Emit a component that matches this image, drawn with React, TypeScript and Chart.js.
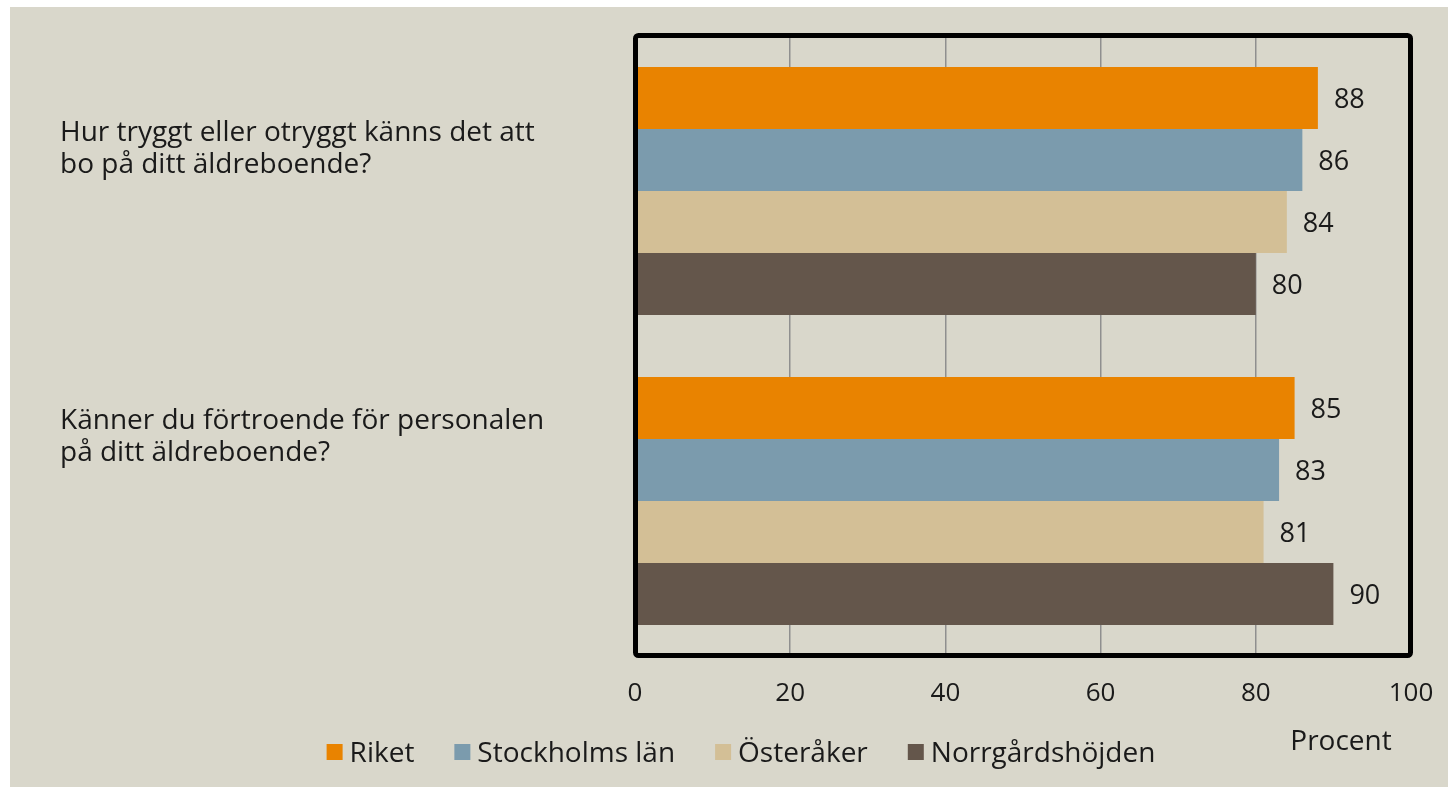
import React, { useEffect, useRef } from "react";
import { Chart, registerables } from "chart.js";

Chart.register(...registerables);

const categories: string[][] = [
  ["Hur tryggt eller otryggt känns det att", "bo på ditt äldreboende?"],
  ["Känner du förtroende för personalen", "på ditt äldreboende?"],
];
const seriesNames = ["Riket", "Stockholms län", "Österåker", "Norrgårdshöjden"];
const riket = [88, 85];
const stockholmsLan = [86, 83];
const osteraker = [84, 81];
const norrgardshojden = [80, 90];
const seriesColors = ["#E98300", "#7B9BAD", "#D3BF96", "#64564B"];
const xMin = 0;
const xMax = 100;
const xStep = 20;
const axisTitle = "Procent";

const FONT = "'Open Sans', 'DejaVu Sans', sans-serif";
const TEXT = "#1a1a1a";

const overlayPlugin = {
  id: "overlay",
  afterDatasetsDraw(chart: any) {
    const { ctx, chartArea } = chart;
    const yScale = chart.scales.y;
    const xScale = chart.scales.x;
    ctx.save();
    // plot border
    ctx.lineWidth = 5;
    ctx.strokeStyle = "#000";
    ctx.beginPath();
    (ctx as any).roundRect(
      chartArea.left + 0.5,
      chartArea.top - 0.5,
      chartArea.right - chartArea.left - 1,
      chartArea.bottom - chartArea.top,
      3
    );
    ctx.stroke();

    // data labels
    ctx.fillStyle = TEXT;
    ctx.font = `27px ${FONT}`;
    ctx.textAlign = "left";
    ctx.textBaseline = "alphabetic";
    chart.data.datasets.forEach((ds: any, di: number) => {
      const meta = chart.getDatasetMeta(di);
      meta.data.forEach((bar: any, i: number) => {
        ctx.fillText(String(ds.data[i]), bar.x + 16, bar.y + 10);
      });
    });

    // category labels
    ctx.font = `28px ${FONT}`;
    (chart.data.labels as string[][]).forEach((lines, i) => {
      const c = yScale.getPixelForValue(i);
      const base = c + (i === 0 ? -50 : -72);
      lines.forEach((ln, k) => ctx.fillText(ln, 50, base + k * 31.5));
    });

    // axis title
    ctx.font = `28px ${FONT}`;
    ctx.textAlign = "center";
    ctx.fillText(axisTitle, xScale.right - 70, 743);

    // legend
    ctx.font = `28px ${FONT}`;
    ctx.textAlign = "left";
    const box = 16, gapBT = 7, gapItem = 40;
    const widths = chart.data.datasets.map((d: any) => ctx.measureText(d.label).width);
    const total =
      widths.reduce((a: number, b: number) => a + b, 0) +
      chart.data.datasets.length * (box + gapBT) +
      (chart.data.datasets.length - 1) * gapItem;
    let x = 731 - total / 2;
    chart.data.datasets.forEach((d: any, i: number) => {
      ctx.fillStyle = d.backgroundColor;
      ctx.fillRect(x, 737, box, box);
      x += box + gapBT;
      ctx.fillStyle = TEXT;
      ctx.fillText(d.label, x, 754.5);
      x += widths[i] + gapItem;
    });
    ctx.restore();
  },
};

export default function App() {
  const ref = useRef<HTMLCanvasElement | null>(null);
  useEffect(() => {
    document.body.style.overflow = "hidden";
    const canvas = ref.current!;
    const seriesData = [riket, stockholmsLan, osteraker, norrgardshojden];
    const chart = new Chart(canvas, {
      type: "bar",
      data: {
        labels: categories as any,
        datasets: seriesNames.map((name, i) => ({
          label: name,
          data: seriesData[i],
          backgroundColor: seriesColors[i],
          borderWidth: 0,
          categoryPercentage: 0.8,
          barPercentage: 1.0,
        })),
      },
      options: {
        indexAxis: "y",
        animation: false,
        responsive: false,
        layout: { padding: { left: 625, top: 29, right: 37, bottom: 0 } },
        plugins: { legend: { display: false }, tooltip: { enabled: false } },
        scales: {
          y: { type: "category", display: false, grid: { display: false } },
          x: {
            type: "linear",
            min: xMin,
            max: xMax,
            ticks: {
              stepSize: xStep,
              color: TEXT,
              font: { family: FONT, size: 26 },
              padding: 0,
            },
            grid: {
              color: "#8f8f8f",
              lineWidth: 1.5,
              drawTicks: true,
              tickLength: 22,
              tickColor: "rgba(0,0,0,0)",
            },
            border: { display: false },
            afterFit: (s: any) => {
              s.height = 131;
            },
          },
        },
      },
      plugins: [overlayPlugin],
    } as any);
    return () => chart.destroy();
  }, []);
  return (
    <div
      style={{
        position: "absolute",
        left: 10,
        top: 7,
        width: 1438,
        height: 780,
        background: "#D9D7CB",
      }}
    >
      <canvas
        ref={ref}
        width={1438}
        height={780}
        style={{ display: "block", width: 1438, height: 780 }}
      />
    </div>
  );
}
